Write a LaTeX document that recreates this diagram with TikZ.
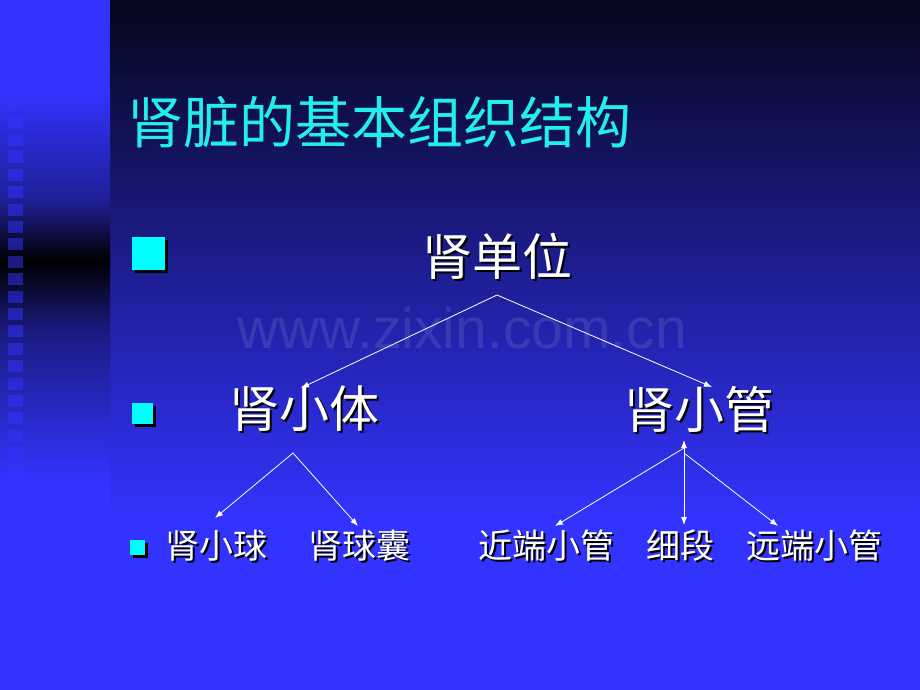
\documentclass[tikz,border=0pt]{standalone}
\usepackage{fontspec}
\setmainfont{Liberation Sans}
\newfontfamily\cjk{Noto Sans CJK SC}
\usetikzlibrary{arrows.meta,shadows}
\definecolor{deepnavy}{HTML}{06061C}
\definecolor{slideblue}{HTML}{3333FF}
\definecolor{stripmid}{HTML}{1E1E96}
\definecolor{striplow}{HTML}{1A1A80}
\definecolor{titlecyan}{HTML}{22EEEE}
\definecolor{bulletcyan}{HTML}{00FFFF}
% white text with a black drop shadow
\newcommand{\shadowtext}[1]{\rlap{\kern2pt\raisebox{-2pt}{\color{black}#1}}#1}
\begin{document}
\begin{tikzpicture}[x=1pt,y=-1pt,
  title/.style={text=titlecyan,font=\cjk\fontsize{56}{60}\selectfont,anchor=west,inner sep=0pt},
  big/.style={text=white,font=\cjk\fontsize{50}{56}\selectfont,inner sep=0pt},
  small/.style={text=white,font=\cjk\fontsize{34}{40}\selectfont,inner sep=0pt},
  bullet/.style={fill=bulletcyan,inner sep=0pt,general shadow={fill=black,shadow xshift=3pt,shadow yshift=-3pt}},
  arr/.style={white,line width=0.8pt,-{Latex[length=8pt,width=6pt]}},
  twoarr/.style={white,line width=0.8pt,{Latex[length=8pt,width=6pt]}-{Latex[length=8pt,width=6pt]}}]
\useasboundingbox (0,0) rectangle (920,690);
% background
\shade[top color=deepnavy,bottom color=slideblue] (110,0) rectangle (920,521);
\fill[slideblue] (110,520) rectangle (920,690);
\fill[slideblue] (0,0) rectangle (110,91);
\shade[top color=slideblue,bottom color=stripmid] (0,90) rectangle (110,201);
\shade[top color=stripmid,bottom color=black] (0,200) rectangle (110,261);
\shade[top color=black,bottom color=striplow] (0,260) rectangle (110,331);
\shade[top color=striplow,bottom color=slideblue] (0,330) rectangle (110,481);
\fill[slideblue] (0,480) rectangle (110,690);
\foreach \i in {0,...,24}
  \fill[slideblue,opacity=.5] (8,{47+17.4*\i}) rectangle ++(15,12);
\draw (462,328) node[text=white,opacity=.1,font=\fontsize{57}{60}\selectfont] (mark) {www.zixin.com.cn};
% title
\draw (127,122) node[title] (head) {肾脏的基本组织结构};
% bullets
\draw (148.5,253) node[bullet,minimum size=33pt] (b1) {};
\draw (142,413) node[bullet,minimum size=21pt] (b2) {};
\draw (137.5,547) node[bullet,minimum size=15pt] (b3) {};
% tree
\draw (497,257) node[big] (danwei) {\shadowtext{肾单位}};
\draw (304,410) node[big] (xiaoti) {\shadowtext{肾小体}};
\draw (699,410) node[big] (xiaoguan) {\shadowtext{肾小管}};
\draw (216,547) node[small] (xiaoqiu) {\shadowtext{肾小球}};
\draw (359,547) node[small] (qiunang) {\shadowtext{肾球囊}};
\draw (546,547) node[small] (jinduan) {\shadowtext{近端小管}};
\draw (680,547) node[small] (xiduan) {\shadowtext{细段}};
\draw (814,547) node[small] (yuanduan) {\shadowtext{远端小管}};
\coordinate (dw-out) at (497,295);
\coordinate (xt-in) at (301,388);
\coordinate (xg-in) at (712,387);
\coordinate (xt-out) at (293,453);
\coordinate (xq-in) at (215,518);
\coordinate (qn-in) at (358,526);
\coordinate (xg-top) at (684,440);
\coordinate (xg-l) at (684,448);
\coordinate (xg-r) at (684,453);
\coordinate (jd-in) at (555,526);
\coordinate (xd-in) at (684,525);
\coordinate (yd-in) at (778,526);
\draw[arr] (dw-out) -- (xt-in);
\draw[arr] (dw-out) -- (xg-in);
\draw[arr] (xt-out) -- (xq-in);
\draw[arr] (xt-out) -- (qn-in);
\draw[twoarr] (xg-top) -- (xd-in);
\draw[arr] (xg-l) -- (jd-in);
\draw[arr] (xg-r) -- (yd-in);
\end{tikzpicture}
\end{document}
